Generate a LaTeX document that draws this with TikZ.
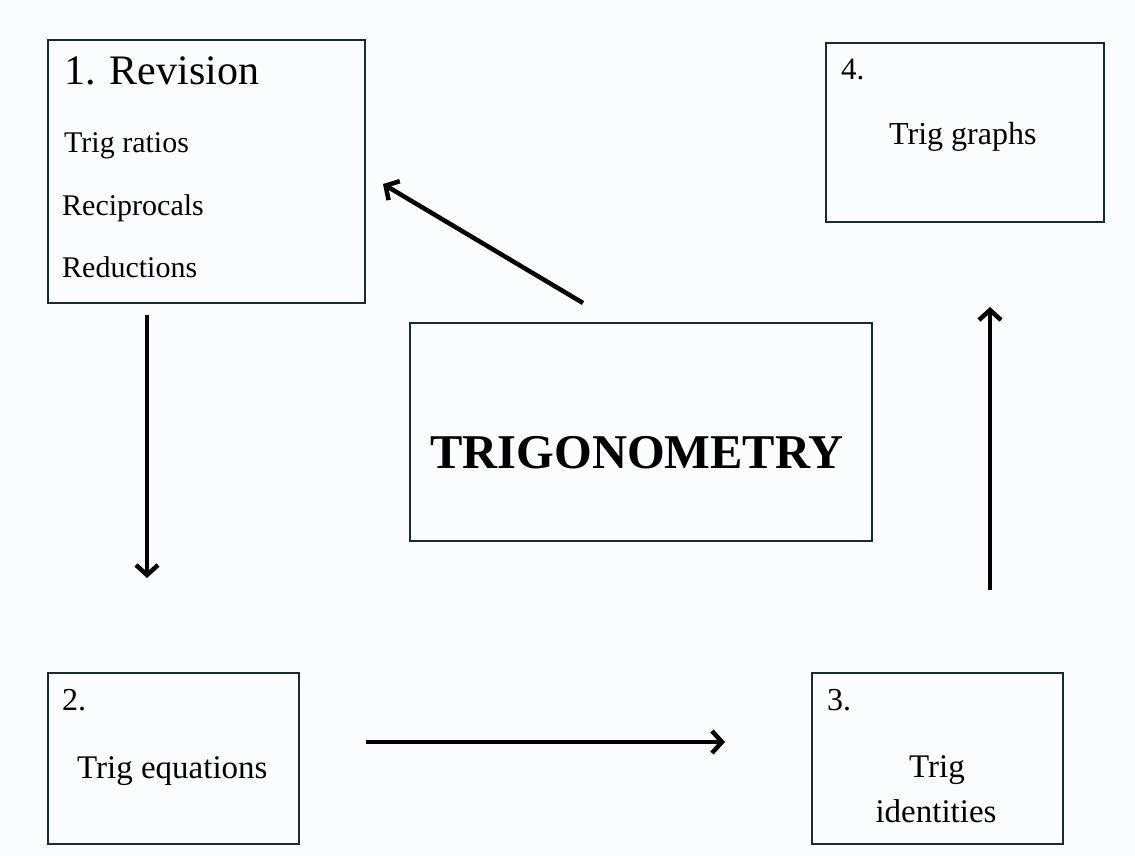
\documentclass[tikz,border=0pt]{standalone}
\usepackage{fontspec}
\setmainfont{Liberation Serif}
\usetikzlibrary{arrows.meta}
\definecolor{bg}{HTML}{FBFCFE}
\definecolor{edge}{HTML}{1E2A30}
\tikzset{
  box/.style={draw=edge, line width=2pt, rectangle, inner sep=0pt, anchor=north west},
  txt/.style={inner sep=0pt, anchor=base west, text=black},
  arr/.style={line width=4.5pt, -{Straight Barb[length=10pt,width=22pt]}, black},
}
\newcommand{\fs}[1]{\fontsize{#1}{#1}\selectfont}
\begin{document}
\begin{tikzpicture}[x=1pt,y=-1pt]
\fill[bg] (0,0) rectangle (1135,856);
\useasboundingbox (0,0) rectangle (1135,856);
% boxes
\node[box, minimum width=317pt, minimum height=263pt] (b1) at (47,39) {};
\node[box, minimum width=278pt, minimum height=179pt] (b4) at (825,42) {};
\node[box, minimum width=462pt, minimum height=218pt] (c) at (409,322) {};
\node[box, minimum width=251pt, minimum height=171pt] (b2) at (47,672) {};
\node[box, minimum width=251pt, minimum height=171pt] (b3) at (811,672) {};
% texts
\node[txt, font=\fs{42}] (t1) at (64,85) {1. Revision};
\node[txt, font=\fs{30}] (t1a) at (64,153) {Trig ratios};
\node[txt, font=\fs{30}] (t1b) at (62,215) {Reciprocals};
\node[txt, font=\fs{30}] (t1c) at (62,277) {Reductions};
\node[txt, font=\fs{31}] (n4) at (841,80) {4.};
\node[txt, font=\fs{32}] (t4) at (889,145) {Trig graphs};
\node[txt, font=\fs{32}] (n2) at (62,710) {2.};
\node[txt, font=\fs{33}] (t2) at (77,778) {Trig equations};
\node[txt, font=\fs{32}] (n3) at (827,710) {3.};
\node[inner sep=0pt, anchor=base, font=\fs{33}] (t3a) at (937,777) {Trig};
\node[inner sep=0pt, anchor=base, font=\fs{33}] (t3b) at (936,822) {identities};
\node[inner sep=0pt, anchor=base, font=\bfseries\fs{48.5}] (tc) at (637,468) {TRIGONOMETRY};
% arrow ends
\coordinate (a1s) at (583,303);
\coordinate (a1e) at (383,184);
\coordinate (a2s) at (147,315);
\coordinate (a2e) at (147,578);
\coordinate (a3s) at (366,742);
\coordinate (a3e) at (725,742);
\coordinate (a4s) at (990,590);
\coordinate (a4e) at (990,307);
\draw[arr] (a1s) -- (a1e);
\draw[arr] (a2s) -- (a2e);
\draw[arr] (a3s) -- (a3e);
\draw[arr] (a4s) -- (a4e);
\end{tikzpicture}
\end{document}
